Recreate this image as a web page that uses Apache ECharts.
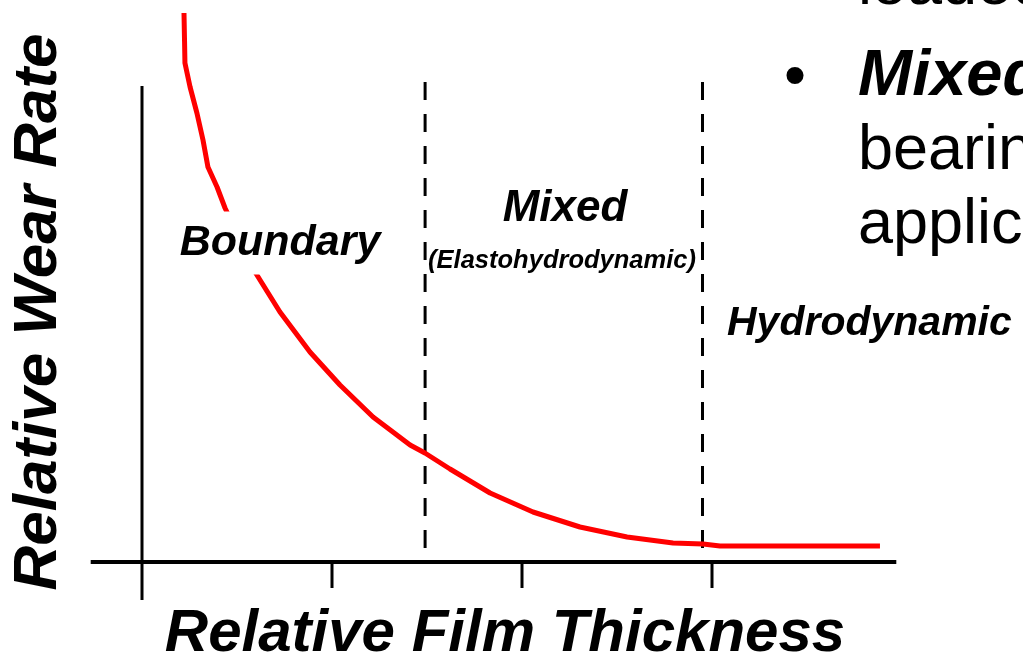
<!DOCTYPE html>
<html>
<head>
<meta charset="utf-8">
<script src="https://cdn.jsdelivr.net/npm/echarts@6/dist/echarts.min.js"></script>
<style>
  html, body { margin: 0; padding: 0; background: #fff; }
  #chart { width: 1023px; height: 660px; }
</style>
</head>
<body>
<div id="chart"></div>
<script>
// ---- data ----
const filmThickness = [0.221, 0.224, 0.226, 0.253, 0.289, 0.321, 0.347, 0.395, 0.437, 0.516, 0.595, 0.726, 0.884, 1.042, 1.216, 1.411, 1.489, 1.621, 1.832, 2.058, 2.305, 2.553, 2.795, 2.953, 3.042, 3.884];
const wearRate      = [5.49, 5.20, 4.99, 4.75, 4.49, 4.22, 3.95, 3.75, 3.54, 3.22, 2.90, 2.50, 2.10, 1.77, 1.45, 1.17, 1.09, 0.93, 0.69, 0.50, 0.35, 0.25, 0.19, 0.18, 0.16, 0.16];
const regimeBoundaries = [1.49, 2.95];
const tickPositions = [1, 2, 3];
const regimeNames = ['Boundary', 'Mixed', '(Elastohydrodynamic)', 'Hydrodynamic'];
const xTitle = 'Relative Film Thickness';
const yTitle = 'Relative Wear Rate';
const slideLines = ['loaded', 'Mixed', 'bearings', 'applications'];

// ---- build ----
const FONT = '"Liberation Sans", Arial, Helvetica, sans-serif';
const curve = filmThickness.map((x, i) => [x, wearRate[i]]);
const black = '#000';

const series = [];
// horizontal axis line
series.push({ type: 'line', data: [[-0.27, 0], [3.97, 0]], symbol: 'none', silent: true,
  lineStyle: { color: black, width: 4 }, z: 3 });
// vertical axis line (extends below horizontal axis)
series.push({ type: 'line', data: [[0, -0.38], [0, 4.76]], symbol: 'none', silent: true,
  lineStyle: { color: black, width: 3 }, z: 3 });
// tick marks below the horizontal axis
tickPositions.forEach((t) => {
  series.push({ type: 'line', data: [[t, 0], [t, -0.26]], symbol: 'none', silent: true,
    lineStyle: { color: black, width: 3 }, z: 3 });
});
// dashed regime boundaries
regimeBoundaries.forEach((b) => {
  series.push({ type: 'line', data: [[b, 4.80], [b, 0]], symbol: 'none', silent: true,
    lineStyle: { color: black, width: 3, type: [18, 14] }, z: 3 });
});
// wear curve
series.push({ type: 'line', data: curve, symbol: 'none', smooth: false, silent: true,
  lineStyle: { color: '#ff0000', width: 5, cap: 'butt', join: 'round' }, z: 4 });

function txt(text, x, y, size, opts) {
  opts = opts || {};
  return {
    type: 'text', z: 100, x: x, y: y, rotation: opts.rotation || 0,
    style: Object.assign({
      text: text,
      fill: black,
      font: (opts.regular ? '' : 'italic bold ') + size + 'px ' + FONT,
      textAlign: opts.align || 'center',
      textVerticalAlign: 'middle'
    }, opts.style || {})
  };
}
// baseline -> middle offset approx 0.3465 * size
function mid(base, size) { return base - 0.3465 * size; }

const graphics = [
  txt(xTitle, 505, mid(655, 60), 60),
  txt(yTitle, mid(60, 62), 312, 62, { rotation: Math.PI / 2 }),
  txt(regimeNames[0], 280, mid(258, 43), 43, { style: { backgroundColor: '#fff', padding: [12, 4, 8, 4] } }),
  txt(regimeNames[1], 565, mid(224, 44), 44),
  txt(regimeNames[2], 562, mid(270, 25.5), 25.5),
  txt(regimeNames[3], 727, mid(338, 41), 41, { align: 'left' }),
  // slide body text (cut off by the right edge)
  txt(slideLines[0], 858, mid(8, 63), 63, { align: 'left', regular: true }),
  txt('\u2022', 795, mid(100, 63), 63, { regular: true }),
  txt(slideLines[1], 858, mid(100, 65), 65, { align: 'left' }),
  txt(slideLines[2], 858, mid(173, 63), 63, { align: 'left', regular: true }),
  txt(slideLines[3], 858, mid(247, 63), 63, { align: 'left', regular: true })
];

const chart = echarts.init(document.getElementById('chart'), null, { renderer: 'canvas' });
chart.setOption({
  animation: false,
  backgroundColor: '#fff',
  grid: { left: 85, right: 121, top: 2, bottom: 48, containLabel: false },
  xAxis: { type: 'value', min: -0.3, max: 4.0, show: false },
  yAxis: { type: 'value', min: -0.5, max: 5.6, show: false },
  series: series,
  graphic: graphics
});
</script>
</body>
</html>
